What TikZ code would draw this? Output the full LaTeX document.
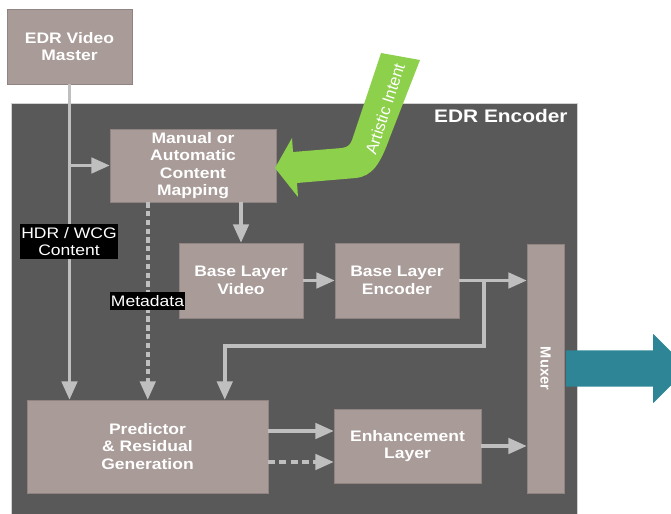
\documentclass[tikz,border=0pt]{standalone}
\usepackage{fontspec}
\setmainfont[FakeStretch=1.15]{Liberation Sans}
\newfontfamily\plainsans{Liberation Sans}
\usetikzlibrary{arrows.meta,calc}

\definecolor{boxgray}{HTML}{A89B98}
\definecolor{encgray}{HTML}{595959}
\definecolor{linegray}{HTML}{BFBFBF}
\definecolor{intentgreen}{HTML}{8DD04B}
\definecolor{outteal}{HTML}{2D8596}

\tikzset{
  blk/.style={fill=boxgray, draw=boxgray!85!black, line width=0.4pt, text=white,
    align=center, inner sep=0pt, font=\bfseries\fontsize{13}{14.8}\selectfont},
  tag/.style={fill=black, text=white, align=center, inner sep=0pt,
    font=\fontsize{13}{14.8}\selectfont},
  conn/.style={draw=linegray, line width=3pt, -{Triangle[length=5.5mm,width=4.6mm]}, linegray},
  dotline/.style={conn, dash pattern=on 4.5pt off 3pt},
  dashline/.style={conn, dash pattern=on 6pt off 3.5pt}
}

\begin{document}
\begin{tikzpicture}[x=0.03cm, y=-0.03cm]
  \useasboundingbox (0,0) rectangle (671,514);
  \clip (0,0) rectangle (671,514);

  % encoder frame
  \node[fill=encgray, draw=linegray!70, line width=0.6pt, anchor=north west,
        minimum width=16.98cm, minimum height=12.6cm] (enc) at (11,103) {};
  \node[anchor=base east, text=white, font=\bfseries\fontsize{15.5}{17}\selectfont]
        (enctitle) at ($(enc.north east)+(-6,20)$) {EDR Encoder};

  % blocks
  \node[blk, minimum width=3.75cm, minimum height=2.25cm] (master) at (69.5,46.5) {EDR Video\\Master};
  \node[blk, minimum width=4.98cm, minimum height=2.19cm] (mapping) at (193,165.5) {Manual or\\Automatic\\Content\\Mapping};
  \node[blk, minimum width=3.72cm, minimum height=2.25cm] (blv) at (241,280.5) {Base Layer\\Video};
  \node[blk, minimum width=3.72cm, minimum height=2.25cm] (ble) at (397,280.5) {Base Layer\\Encoder};
  \node[blk, minimum width=7.23cm, minimum height=2.79cm] (pred) at (147.5,446.5) {Predictor\\\& Residual\\Generation};
  \node[blk, minimum width=4.41cm, minimum height=2.22cm] (enh) at (407.5,446) {Enhancement\\Layer};
  \node[blk, rotate=-90, minimum width=7.47cm, minimum height=1.11cm,
        font=\plainsans\bfseries\fontsize{12.5}{14}\selectfont] (mux) at (545.5,368.5) {Muxer};

  % helper points
  \coordinate (mdtop) at ($(mapping.south west)+(38,0)$);
  \coordinate (tap) at ($(ble.east)+(25,0)$);
  \coordinate (bend) at ($(pred.north west)+(198,-54)$);
  \coordinate (p1) at ($(pred.east)+(0,-15.5)$);
  \coordinate (p2) at ($(pred.east)+(0,15.5)$);

  % connectors
  \draw[conn] (master.south) -- (master.south |- pred.north);
  \draw[conn] (master.south |- mapping.west) -- (mapping.west);
  \draw[dotline] (mdtop) -- (mdtop |- pred.north);
  \draw[conn] (blv.north |- mapping.south) -- (blv.north);
  \draw[conn] (blv.east) -- (ble.west);
  \draw[conn] (ble.east) -- (ble.east -| mux.south);
  \draw[conn] (tap) |- (bend) -- (bend |- pred.north);
  \draw[conn] (p1) -- (p1 -| enh.west);
  \draw[dashline] (p2) -- (p2 -| enh.west);
  \draw[conn] (enh.east) -- (enh.east -| mux.south);

  % labels on the lines
  \node[tag, minimum width=2.94cm, minimum height=1.05cm] (hdr) at (69,241.5) {HDR / WCG\\Content};
  \node[tag, minimum width=2.25cm, minimum height=0.54cm] (meta) at (147.5,301) {Metadata};

  % artistic intent arrow
  \fill[intentgreen] (381,53) -- (420,60) -- (390,137)
        .. controls (380,165) and (372,176) .. (356,178) -- (297,183)
        -- (298,197) -- (275,168) -- (292,138) -- (293,152) -- (342,148)
        .. controls (348,147) and (350,145) .. (352,140) -- cycle;
  \node[rotate=72, text=white, font=\plainsans\fontsize{14}{16}\selectfont] (intent) at (385,109) {Artistic Intent};

  % output arrow
  \fill[outteal] ($(mux.north)+(2,-18)$) -- ++(87,0) -- ++(0,-16.5) -- ++(35,34.5)
        -- ++(-35,34.5) -- ++(0,-16.5) -- ++(-87,0) -- cycle;
\end{tikzpicture}
\end{document}
